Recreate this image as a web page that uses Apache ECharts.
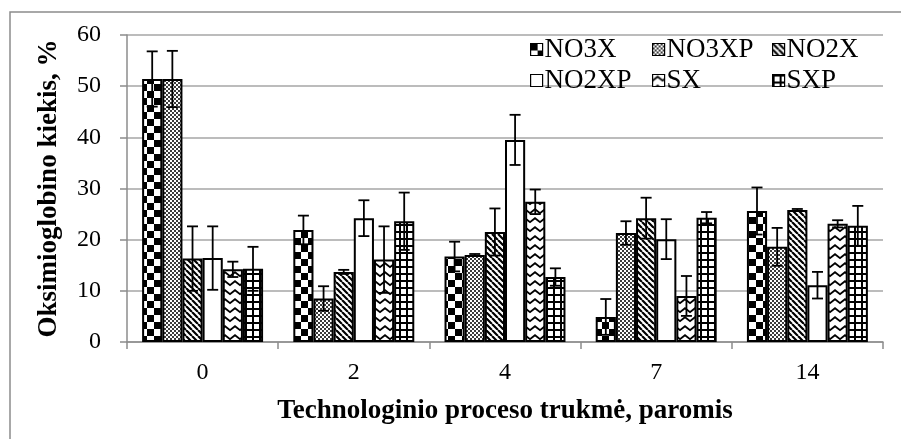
<!DOCTYPE html>
<html>
<head>
<meta charset="utf-8">
<script src="https://cdn.jsdelivr.net/npm/echarts@6/dist/echarts.min.js"></script>
<style>
  html, body { margin: 0; padding: 0; background: #fff; }
  #chart { width: 901px; height: 439px; }
</style>
</head>
<body>
<div id="chart"></div>
<script>
// Oksimioglobino kiekis pagal technologinio proceso trukmę
const categories = ['0', '2', '4', '7', '14'];
const seriesNames = ['NO3X', 'NO3XP', 'NO2X', 'NO2XP', 'SX', 'SXP'];

const NO3X   = [51.4, 21.9, 16.7, 4.9, 25.6];
const NO3XP  = [51.4, 8.5, 17.0, 21.3, 18.6];
const NO2X   = [16.3, 13.7, 21.5, 24.2, 25.8];
const NO2XP  = [16.4, 24.2, 39.5, 20.1, 11.1];
const SX     = [14.2, 16.1, 27.4, 9.0, 23.1];
const SXP    = [14.3, 23.6, 12.7, 24.3, 22.7];

const NO3X_err  = [5.4, 2.8, 2.9, 3.5, 4.6];
const NO3XP_err = [5.5, 2.4, 0.2, 2.3, 3.7];
const NO2X_err  = [6.3, 0.4, 4.6, 4.0, 0.2];
const NO2XP_err = [6.2, 3.5, 4.9, 3.9, 2.6];
const SX_err    = [1.5, 6.5, 2.4, 3.9, 0.7];
const SXP_err   = [4.3, 5.6, 1.7, 1.1, 3.9];

const yTicks = [0, 10, 20, 30, 40, 50, 60];

const values = [NO3X, NO3XP, NO2X, NO2XP, SX, SXP];
const errors = [NO3X_err, NO3XP_err, NO2X_err, NO2XP_err, SX_err, SXP_err];

const FONT = "'Liberation Serif', 'Times New Roman', serif";

// monochrome fill patterns
function tile(w, h, draw) {
  const c = document.createElement('canvas');
  c.width = w; c.height = h;
  const g = c.getContext('2d');
  g.fillStyle = '#fff';
  g.fillRect(0, 0, w, h);
  g.fillStyle = '#000';
  g.strokeStyle = '#000';
  draw(g, w, h);
  return { image: c, repeat: 'repeat' };
}

const patterns = [
  // checkerboard
  tile(14, 14, g => { g.fillRect(0, 0, 7, 7); g.fillRect(7, 7, 7, 7); }),
  // fine stipple
  tile(4, 4, g => {
    g.fillStyle = '#3c3c3c';
    g.fillRect(0, 0, 2, 2); g.fillRect(2, 2, 2, 2);
  }),
  // diagonal stripes
  tile(6, 6, g => {
    g.lineWidth = 2.2;
    g.beginPath();
    for (const k of [-6, 0, 6]) { g.moveTo(k, 0); g.lineTo(k + 6, 6); }
    g.stroke();
  }),
  // plain
  tile(4, 4, () => {}),
  // zigzag
  tile(10, 9, g => {
    g.lineWidth = 1.8;
    g.beginPath();
    g.moveTo(-1, 6.8); g.lineTo(5, 2.2); g.lineTo(11, 6.8);
    g.stroke();
  }),
  // square grid
  tile(7, 7, g => { g.fillRect(0, 0, 7, 2); g.fillRect(0, 0, 2, 7); })
];

const barSeries = seriesNames.map((name, i) => ({
  name: name,
  type: 'bar',
  data: values[i],
  barGap: 0,
  barCategoryGap: '20%',
  itemStyle: { color: patterns[i], borderColor: '#000', borderWidth: 2 },
  emphasis: { disabled: true },
  z: 2
}));

const nBars = seriesNames.length;
const errSeries = seriesNames.map((name, i) => ({
  name: name + ' paklaida',
  type: 'custom',
  data: categories.map((c, j) => [j, values[i][j], errors[i][j]]),
  z: 5,
  silent: true,
  renderItem: function (params, api) {
    const idx = api.value(0), v = api.value(1), e = api.value(2);
    const catW = api.size([1, 0])[0];
    const bw = catW * 0.8 / nBars;
    const x = api.coord([idx, v])[0] + (i - (nBars - 1) / 2) * bw;
    const yTop = api.coord([idx, v + e])[1];
    const yBot = api.coord([idx, Math.max(v - e, 0)])[1];
    const cap = 5.5;
    const st = { stroke: '#000', lineWidth: 1.8 };
    return {
      type: 'group',
      children: [
        { type: 'line', shape: { x1: x, y1: yTop, x2: x, y2: yBot }, style: st },
        { type: 'line', shape: { x1: x - cap, y1: yTop, x2: x + cap, y2: yTop }, style: st },
        { type: 'line', shape: { x1: x - cap, y1: yBot, x2: x + cap, y2: yBot }, style: st }
      ]
    };
  }
}));

// legend: two rows of three, fixed columns
const legendCols = [530, 652, 772];
const legendRows = [36, 67];
const legends = seriesNames.map((name, i) => ({
  data: [name],
  left: legendCols[i % 3],
  top: legendRows[Math.floor(i / 3)],
  icon: 'rect',
  itemWidth: 12,
  itemHeight: 12,
  itemGap: 0,
  selectedMode: false,
  padding: 0,
  itemStyle: { borderColor: '#000', borderWidth: 1.2 },
  textStyle: { fontFamily: FONT, fontSize: 27, color: '#000', padding: [0, 0, 0, -3] }
}));

const chart = echarts.init(document.getElementById('chart'), null, { renderer: 'canvas' });
chart.setOption({
  backgroundColor: '#fff',
  animation: false,
  legend: legends,
  grid: { left: 127, right: 18, top: 35, bottom: 97 },
  xAxis: {
    type: 'category',
    data: categories,
    name: 'Technologinio proceso trukmė, paromis',
    nameLocation: 'middle',
    nameGap: 56,
    nameTextStyle: { fontFamily: FONT, fontSize: 27, fontWeight: 'bold', color: '#000' },
    axisLine: { lineStyle: { color: '#8c8c8c', width: 1.5 } },
    axisTick: { show: true, length: 7, lineStyle: { color: '#8c8c8c', width: 1.5 } },
    axisLabel: { fontFamily: FONT, fontSize: 24, color: '#000', margin: 19 },
    splitLine: { show: false }
  },
  yAxis: {
    type: 'value',
    min: yTicks[0],
    max: yTicks[yTicks.length - 1],
    interval: yTicks[1] - yTicks[0],
    name: 'Oksimioglobino kiekis, %',
    nameLocation: 'middle',
    nameGap: 64,
    nameRotate: 90,
    nameTextStyle: { fontFamily: FONT, fontSize: 27, fontWeight: 'bold', color: '#000' },
    axisLine: { show: true, lineStyle: { color: '#8c8c8c', width: 1.5 } },
    axisTick: { show: true, length: 7, lineStyle: { color: '#8c8c8c', width: 1.5 } },
    axisLabel: { fontFamily: FONT, fontSize: 24, color: '#000', margin: 26 },
    splitLine: { lineStyle: { color: '#a6a6a6', width: 1.5 } }
  },
  graphic: [{
    type: 'rect',
    shape: { x: 10, y: 12, width: 1200, height: 1200 },
    style: { fill: 'none', stroke: '#8c8c8c', lineWidth: 1.5 },
    silent: true,
    z: -10
  }],
  series: barSeries.concat(errSeries)
});
</script>
</body>
</html>
